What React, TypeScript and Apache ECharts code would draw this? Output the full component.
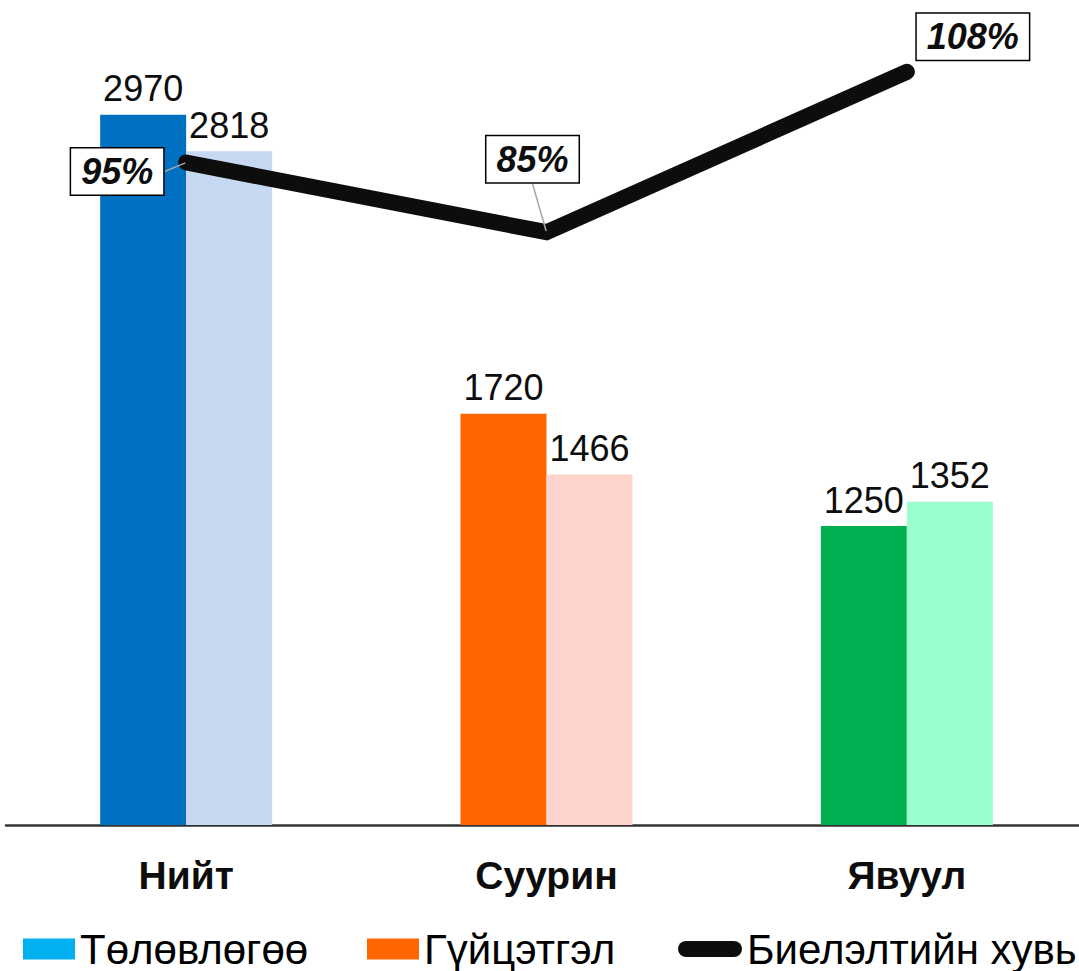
import React, { useEffect, useRef } from "react";
import * as echarts from "echarts";

const categories = ["Нийт", "Суурин", "Явуул"];
const planValues = [2970, 1720, 1250];
const actualValues = [2818, 1466, 1352];
const percentValues = [95, 85, 108];
const planColors = ["#0070C0", "#FF6600", "#00B050"];
const actualColors = ["#C6D9F1", "#FFD4CC", "#99FFCC"];
const seriesNames = ["Төлөвлөгөө", "Гүйцэтгэл", "Биелэлтийн хувь"];
const labelShifts = [
  [-69, 9],
  [-14, -73],
  [66, -35],
];
const showLeader = [true, true, false];

const FONT = "'Liberation Sans', Arial, sans-serif";

export default function App() {
  const ref = useRef<HTMLDivElement>(null);
  useEffect(() => {
    document.body.style.margin = "0";
    const chart = echarts.init(ref.current!, undefined, { renderer: "svg" });
    const legendText = { fontSize: 42, lineHeight: 42, color: "#000", fontFamily: FONT };
    chart.setOption({
      animation: false,
      textStyle: { fontFamily: FONT },
      grid: {
        left: 6,
        width: 1081,
        top: 0,
        bottom: 146,
        containLabel: false,
        outerBoundsMode: "none",
      },
      legend: [
        {
          data: [{ name: seriesNames[0], icon: "rect" }],
          left: 23,
          top: 928,
          padding: 0,
          itemWidth: 52,
          itemHeight: 21,
          textStyle: legendText,
          selectedMode: false,
        },
        {
          data: [{ name: seriesNames[1], icon: "rect" }],
          left: 367,
          top: 928,
          padding: 0,
          itemWidth: 52,
          itemHeight: 21,
          textStyle: legendText,
          selectedMode: false,
        },
        {
          data: [
            {
              name: seriesNames[2],
              icon: "path://M8,0 H56 A8,8 0 0 1 56,16 H8 A8,8 0 0 1 8,0 Z",
              itemStyle: { color: "#0d0d0d" },
            },
          ],
          left: 678,
          top: 928,
          padding: 0,
          itemWidth: 64,
          itemHeight: 16,
          textStyle: legendText,
          selectedMode: false,
        },
      ],
      xAxis: {
        type: "category",
        data: categories,
        axisLine: { show: true, lineStyle: { color: "#333333", width: 2.5 } },
        axisTick: { show: false },
        axisLabel: {
          margin: 31,
          fontSize: 39,
          fontWeight: "bold",
          color: "#0d0d0d",
          fontFamily: FONT,
        },
      },
      yAxis: [
        { type: "value", min: 0, max: 3450, show: false, splitLine: { show: false } },
        { type: "value", min: 0, max: 118.3, show: false, splitLine: { show: false } },
      ],
      series: [
        {
          name: seriesNames[0],
          type: "bar",
          barWidth: 86,
          barGap: "0%",
          itemStyle: { color: "#00B0F0" },
          data: planValues.map((v, i) => ({ value: v, itemStyle: { color: planColors[i] } })),
          label: {
            show: true,
            position: "top",
            distance: 8,
            fontSize: 36,
            color: "#0d0d0d",
            fontFamily: FONT,
          },
        },
        {
          name: seriesNames[1],
          type: "bar",
          barWidth: 86,
          barGap: "0%",
          itemStyle: { color: "#FF6600" },
          data: actualValues.map((v, i) => ({ value: v, itemStyle: { color: actualColors[i] } })),
          label: {
            show: true,
            position: "top",
            distance: 8,
            fontSize: 36,
            color: "#0d0d0d",
            fontFamily: FONT,
          },
        },
        {
          name: seriesNames[2],
          type: "line",
          yAxisIndex: 1,
          data: percentValues.map((v, i) => ({ value: v, labelLine: { show: showLeader[i] } })),
          symbol: "circle",
          symbolSize: 2,
          itemStyle: { color: "#0d0d0d" },
          lineStyle: { color: "#0d0d0d", width: 16, cap: "round", join: "miter" },
          label: {
            show: true,
            position: "inside",
            formatter: "{c}%",
            fontSize: 36,
            fontWeight: "bold",
            fontStyle: "italic",
            color: "#0d0d0d",
            fontFamily: FONT,
            backgroundColor: "#fff",
            borderColor: "#000",
            borderWidth: 1.5,
            padding: [6, 10, 4, 10],
          },
          labelLine: { show: true, lineStyle: { color: "#a6a6a6", width: 1.5 } },
          labelLayout: (params: any) => ({
            dx: labelShifts[params.dataIndex][0],
            dy: labelShifts[params.dataIndex][1],
          }),
          z: 5,
        },
      ],
    });
    return () => chart.dispose();
  }, []);
  return <div ref={ref} style={{ width: 1079, height: 971 }} />;
}
